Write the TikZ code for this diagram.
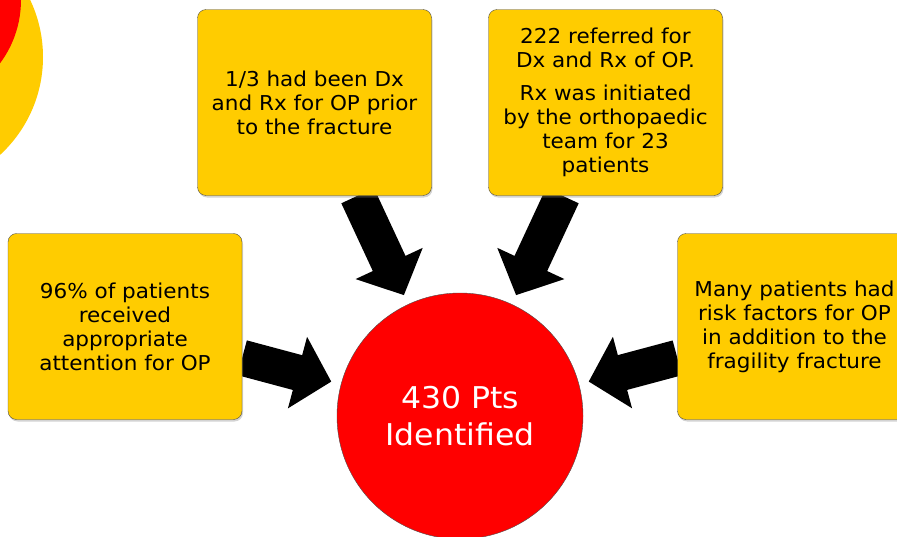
\documentclass[tikz,border=0pt]{standalone}
\usepackage{fontspec}
\setmainfont[FakeStretch=1.05]{DejaVu Sans}
\usetikzlibrary{arrows.meta, shadows}
\definecolor{boxyellow}{RGB}{255,204,0}
\definecolor{hubred}{RGB}{255,0,0}
\pgfdeclarelayer{bg}
\pgfsetlayers{bg,main}

\begin{document}
\begin{tikzpicture}[
        x=1pt, y=-1pt,
        factbox/.style={rectangle, draw=black!70, fill=boxyellow, rounded corners=3mm,
          minimum width=234pt, minimum height=186pt, text width=230pt, align=center,
          font=\fontsize{20.5}{24}\selectfont, inner sep=0pt,
          drop shadow={opacity=0.35, shadow xshift=1pt, shadow yshift=-2pt}},
        hub/.style={circle, draw=black!70, fill=hubred, minimum size=246pt, inner sep=0pt,
          text=white, align=center, font=\fontsize{30}{37}\selectfont},
        bigarrow/.style={-{Triangle[length=35pt,width=72pt]}, line width=36pt, draw=black, shorten >=10pt}
      ]
        \useasboundingbox (0,0) rectangle (897,536);
        \clip (0,0) rectangle (897,536);

        % corner decoration
        \fill[boxyellow] (-90,57) circle (133pt);
        \fill[hubred] (-85,0) circle (106pt);

        \node[hub] (hub) at (460,416) {430 Pts\\Identified};
        \node[factbox] (prior) at (314.5,102.5) {1/3 had been Dx\\and Rx for OP prior\\to the fracture};
        \node[factbox] (referred) at (605.5,102.5) {222 referred for\\Dx and Rx of OP.\\[9pt]Rx was initiated\\by the orthopaedic\\team for 23\\patients};
        \node[factbox] (attention) at (125,326.5) {96\% of patients\\received\\appropriate\\attention for OP};
        \node[factbox] (risk) at (794.5,326.5) {Many patients had\\risk factors for OP\\in addition to the\\fragility fracture};

        \begin{pgfonlayer}{bg}
          \draw[bigarrow] (prior) -- (hub);
          \draw[bigarrow] (referred) -- (hub);
          \draw[bigarrow] (attention) -- (hub);
          \draw[bigarrow] (risk) -- (hub);
        \end{pgfonlayer}
      \end{tikzpicture}
\end{document}
